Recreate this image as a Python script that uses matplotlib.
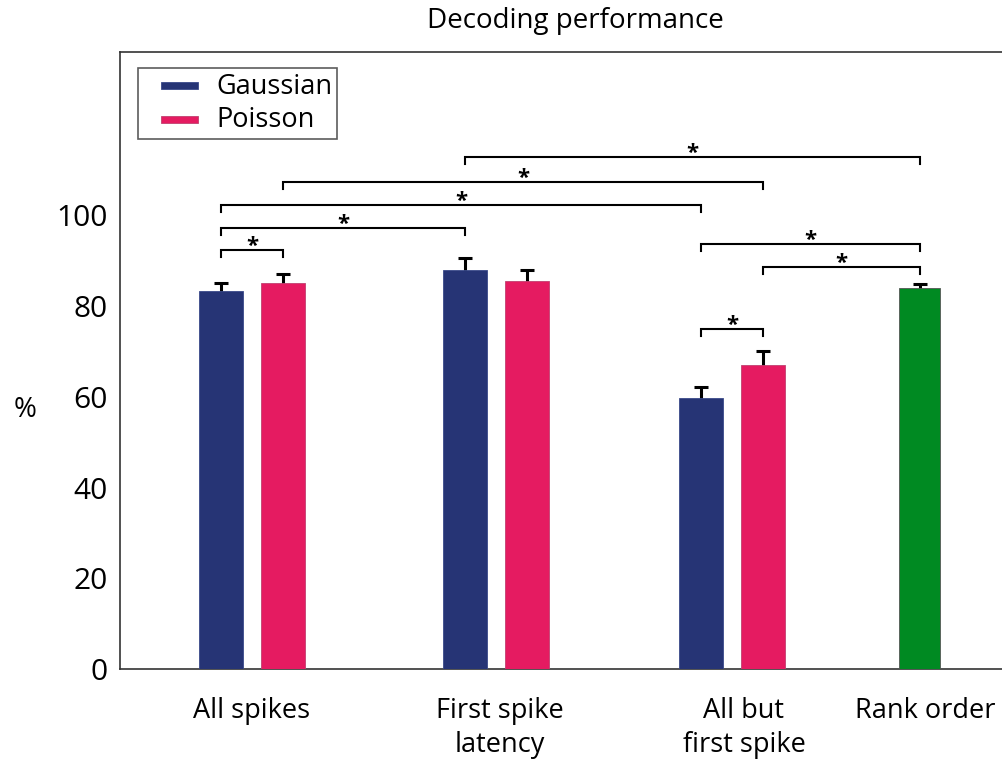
import matplotlib
matplotlib.use("Agg")
import matplotlib.pyplot as plt

plt.rcParams['font.family'] = ['Open Sans', 'DejaVu Sans']

# ---- data -------------------------------------------------------------
categories = ["All spikes", "First spike\nlatency", "All but\nfirst spike", "Rank order"]
gaussian_vals = [83.3, 88.0, 59.8]
gaussian_err = [1.8, 2.6, 2.4]
poisson_vals = [85.0, 85.6, 67.0]
poisson_err = [2.1, 2.3, 3.1]
rank_val = 83.9
rank_err = 1.0
yticks = [0, 20, 40, 60, 80, 100]

# significance brackets: (left bar, right bar, height)
bar_keys = ["G0", "P0", "G1", "P1", "G2", "P2", "R"]
brackets = [
    ("G0", "P0", 92.3),
    ("G0", "G1", 97.1),
    ("G0", "G2", 102.2),
    ("P0", "P2", 107.3),
    ("G1", "R", 112.8),
    ("G2", "R", 93.6),
    ("P2", "R", 88.5),
    ("G2", "P2", 74.9),
]

# ---- layout -----------------------------------------------------------
group_pos = [2.52, 4.965, 7.325]
rank_pos = 9.20
label_pos = [2.52, 5.00, 7.44, 9.25]
offset = 0.31
bar_w = 0.44
rank_w = 0.41

navy = "#263475"
pink = "#E51B61"
green = "#008A22"

W, H = 1003, 764
fig = plt.figure(figsize=(W / 100, H / 100), dpi=100)
ax_left, ax_right, ax_top, ax_bottom = 120, 1030, 52, 669
ax = fig.add_axes([ax_left / W, (H - ax_bottom) / H,
                   (ax_right - ax_left) / W, (ax_bottom - ax_top) / H])
ax.set_xlim(1.20, 10.30)
ax.set_ylim(0, 136)

gx = [p - offset for p in group_pos]
px = [p + offset for p in group_pos]

ax.bar(gx, gaussian_vals, width=bar_w, color=navy, edgecolor="#3a4a8a",
       linewidth=0.6, zorder=3, label="Gaussian")
ax.bar(px, poisson_vals, width=bar_w, color=pink, edgecolor="#c04070",
       linewidth=0.6, zorder=3, label="Poisson")
ax.bar([rank_pos], [rank_val], width=rank_w, color=green, edgecolor="#555555",
       linewidth=0.6, zorder=3)

err_kw = dict(fmt="none", ecolor="black", elinewidth=2.2, capsize=5,
              capthick=2.2, zorder=2)
ax.errorbar(gx, gaussian_vals, yerr=gaussian_err, **err_kw)
ax.errorbar(px, poisson_vals, yerr=poisson_err, **err_kw)
ax.errorbar([rank_pos], [rank_val], yerr=[rank_err], **err_kw)

xs = dict(zip(bar_keys, [gx[0], px[0], gx[1], px[1], gx[2], px[2], rank_pos]))
drop = 1.5
for a, b, h in brackets:
    x1, x2 = xs[a], xs[b]
    ax.plot([x1, x1, x2, x2], [h - drop, h, h, h - drop], color="black",
            lw=1.5, solid_joinstyle="miter", zorder=4)
    ax.text((x1 + x2) / 2, h - 1.5, "*", ha="center", va="bottom",
            fontsize=16, fontweight="bold", color="black", zorder=4)

ax.set_xticks(label_pos)
ax.set_xticklabels(categories, fontsize=19.5, linespacing=1.3)
ax.set_yticks(yticks)
ax.set_yticklabels([str(v) for v in yticks], fontsize=21.5)
ax.tick_params(axis="both", length=0)
ax.tick_params(axis="x", pad=20)
ax.tick_params(axis="y", pad=9)

for side in ["left", "bottom", "top"]:
    ax.spines[side].set_color("#333333")
    ax.spines[side].set_linewidth(1.2)
ax.spines["right"].set_visible(False)

fig.text(25 / W, 1 - 410 / H, "%", fontsize=20, ha="center", va="center")
fig.text(575 / W, 1 - 21 / H, "Decoding performance", fontsize=20,
         ha="center", va="center")

leg_fs = 19.5
leg = ax.legend(loc="upper left", bbox_to_anchor=(18 / (ax_right - ax_left),
                1 - 16 / (ax_bottom - ax_top)),
                fontsize=leg_fs, frameon=True, fancybox=False, borderaxespad=0,
                handlelength=2.04, handletextpad=0.67, borderpad=0.17,
                labelspacing=0.2)
leg.get_frame().set_edgecolor("#333333")
leg.get_frame().set_linewidth(1.2)
for h in leg.legend_handles:
    h.set_x(13.0)
    h.set_width(26.6)
    h.set_height(5)
    h.set_y(3.0)

fig.savefig("out.png", dpi=100)
